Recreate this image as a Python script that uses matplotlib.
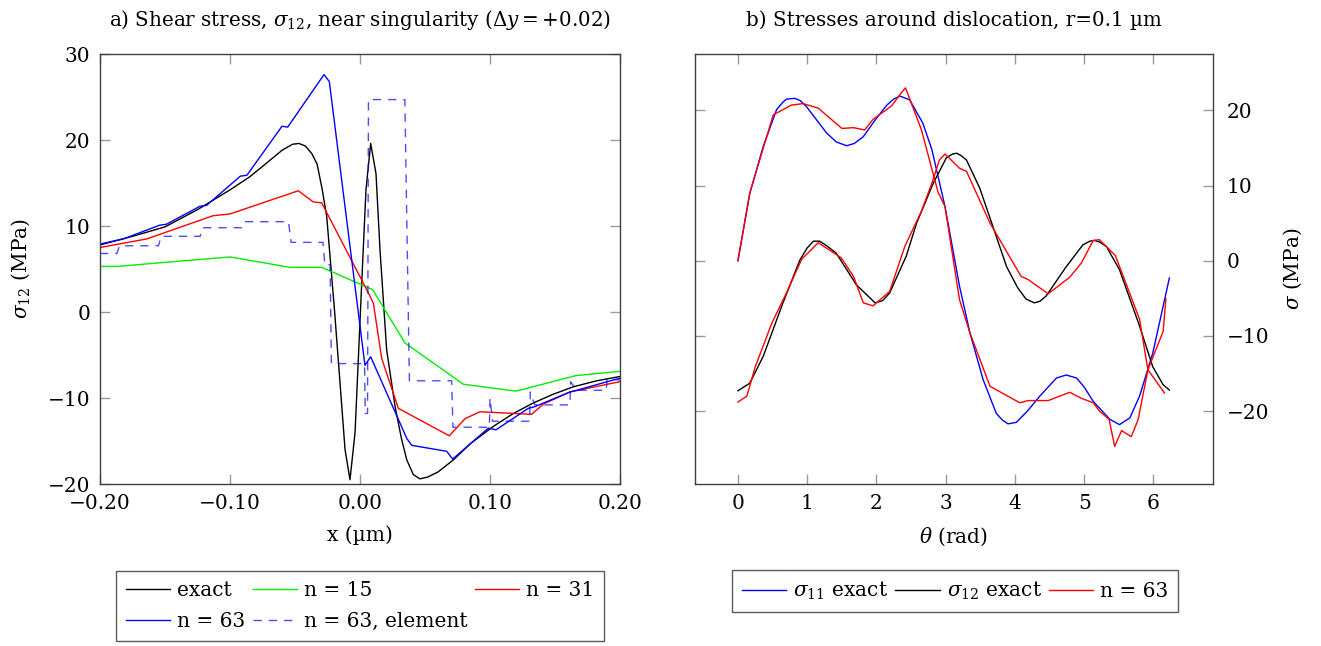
import matplotlib
matplotlib.use('Agg')
import matplotlib.pyplot as plt

plt.rcParams['font.family'] = ['DejaVu Serif']
plt.rcParams['mathtext.fontset'] = 'dejavuserif'
plt.rcParams['font.size'] = 14

# ---- a) shear stress near singularity ----
exact_x = [-0.2, -0.175, -0.15, -0.125, -0.1, -0.085, -0.072, -0.06, -0.052, -0.047,
           -0.042, -0.037, -0.033, -0.029, -0.0256, -0.0195, -0.0115, -0.0077, -0.0038,
           0.0013, 0.0046, 0.0082, 0.0123, 0.0154, 0.0205, 0.027, 0.032, 0.036, 0.041,
           0.046, 0.052, 0.06, 0.0718, 0.085, 0.1026, 0.118, 0.133, 0.148, 0.164, 0.182, 0.2]
exact_y = [7.8, 8.8, 9.9, 11.9, 14.2, 15.7, 17.3, 18.8, 19.5, 19.6,
           19.3, 18.4, 17.2, 14.2, 11.1, 0.0, -16.0, -19.5, -14.0,
           3.3, 14.2, 19.6, 16.1, 7.2, -4.4, -11.0, -14.8, -17.2, -18.9,
           -19.4, -19.2, -18.6, -17.2, -15.3, -13.3, -11.8, -10.6, -9.6, -8.7, -8.0, -7.5]

n15_x = [-0.2, -0.187, -0.1, -0.054, -0.0295, 0.0097, 0.0346, 0.0795, 0.12, 0.166, 0.2]
n15_y = [5.3, 5.3, 6.4, 5.2, 5.2, 2.6, -3.6, -8.4, -9.2, -7.4, -6.9]

n31_x = [-0.2, -0.164, -0.113, -0.1, -0.0474, -0.036, -0.0295, 0.0072, 0.0103, 0.0167,
         0.0295, 0.0687, 0.0808, 0.0923, 0.132, 0.141, 0.1615, 0.2]
n31_y = [7.5, 8.5, 11.2, 11.4, 14.1, 12.8, 12.7, 2.0, 1.0, -5.4,
         -11.2, -14.4, -12.4, -11.6, -11.9, -10.7, -9.3, -8.1]

n63_x = [-0.2, -0.182, -0.154, -0.149, -0.123, -0.118, -0.092, -0.087, -0.060, -0.0556,
         -0.0277, -0.0236, 0.0038, 0.0082, 0.036, 0.0397, 0.0667, 0.0713, 0.0987, 0.1046,
         0.1295, 0.1346, 0.1615, 0.1667, 0.195, 0.2]
n63_y = [7.9, 8.5, 10.1, 10.2, 12.3, 12.4, 15.8, 15.9, 21.6, 21.5,
         27.6, 26.8, -6.2, -5.2, -14.7, -15.5, -16.2, -17.1, -13.5, -13.7,
         -11.2, -11.0, -9.3, -9.1, -7.9, -7.7]

elem_x = [-0.2, -0.187, -0.185, -0.155, -0.153, -0.123, -0.121, -0.091, -0.089, -0.055,
          -0.053, -0.0285, -0.027, -0.023, -0.022, 0.0035, 0.004, 0.0058, 0.0065, 0.0345,
          0.038, 0.0705, 0.0715, 0.0995, 0.1, 0.102, 0.1305, 0.131, 0.1345, 0.1615,
          0.162, 0.1665, 0.1895, 0.19, 0.2]
elem_y = [6.8, 6.8, 7.7, 7.7, 8.8, 8.8, 9.8, 9.8, 10.5, 10.5,
          8.1, 8.1, 5.5, 5.5, -6.0, -6.0, -11.8, -11.8, 24.7, 24.7,
          -8.0, -8.0, -13.4, -13.4, -10.0, -12.7, -12.7, -9.3, -10.8, -10.8,
          -8.1, -9.1, -9.1, -7.8, -7.9]

# ---- b) stresses around dislocation ----
th_s11 = [0, 0.173, 0.365, 0.558, 0.64, 0.7, 0.82, 0.9, 0.99, 1.13, 1.28, 1.42, 1.57,
          1.68, 1.81, 1.98, 2.15, 2.25, 2.34, 2.48, 2.67, 2.8, 2.99, 3.2, 3.35, 3.54, 3.73,
          3.82, 3.9, 4.02, 4.18, 4.36, 4.6, 4.74, 4.89, 5.0, 5.13, 5.37, 5.51, 5.66, 5.8,
          5.99, 6.23]
s11_exact = [0, 9.0, 15.2, 20.1, 21.0, 21.5, 21.6, 21.3, 20.5, 18.8, 17.0, 15.8, 15.3,
             15.6, 16.5, 18.7, 20.7, 21.5, 21.9, 21.4, 18.3, 14.8, 7.2, -3.4, -9.6, -15.8,
             -20.3, -21.2, -21.7, -21.5, -20.0, -18.0, -15.6, -15.2, -15.6, -16.8, -18.7,
             -21.1, -21.8, -20.9, -18.0, -12.3, -2.3]

th_s12 = [0, 0.17, 0.366, 0.65, 0.895, 1.0, 1.09, 1.18, 1.28, 1.42, 1.71, 1.98, 2.09, 2.19,
          2.43, 2.58, 2.82, 3.01, 3.1, 3.16, 3.22, 3.3, 3.49, 3.68, 3.88, 4.04, 4.16, 4.28,
          4.36, 4.45, 4.74, 4.98, 5.08, 5.15, 5.22, 5.32, 5.51, 5.8, 5.99, 6.14, 6.23]
s12_exact = [-17.3, -16.3, -12.7, -5.6, 0.1, 1.7, 2.6, 2.6, 2.0, 1.0, -3.2, -5.6, -5.3,
             -4.3, 0.6, 5.0, 10.3, 13.7, 14.2, 14.3, 14.0, 13.4, 9.7, 4.6, -0.8, -3.6,
             -5.1, -5.6, -5.4, -4.7, -0.8, 2.1, 2.6, 2.7, 2.5, 1.9, -1.2, -8.7, -14.1,
             -16.5, -17.2]

th_r11 = [0, 0.17, 0.51, 0.77, 0.94, 1.16, 1.5, 1.67, 1.83, 1.95, 2.22, 2.34, 2.42, 2.65,
          2.89, 2.99, 3.2, 3.35, 3.64, 4.07, 4.19, 4.48, 4.79, 4.96, 5.13, 5.22, 5.36,
          5.44, 5.54, 5.68, 5.78, 5.92, 6.14, 6.18]
s11_n63 = [0, 9.0, 19.4, 20.7, 20.9, 20.3, 17.6, 17.7, 17.4, 18.8, 20.6, 22.1, 23.0, 17.4,
           9.1, 7.2, -5.2, -9.6, -16.7, -18.9, -18.6, -18.6, -17.5, -18.3, -18.9, -20.0,
           -21.1, -24.7, -22.6, -23.4, -21.1, -14.5, -9.4, -5.0]

th_r12 = [0, 0.13, 0.25, 0.49, 0.71, 0.92, 1.16, 1.49, 1.67, 1.81, 1.95, 2.19, 2.41, 2.65,
          2.8, 2.91, 2.99, 3.2, 3.3, 3.64, 4.09, 4.19, 4.48, 4.79, 4.96, 5.13, 5.22, 5.45,
          5.8, 5.92, 6.16]
s12_n63 = [-18.8, -18.0, -14.1, -8.3, -4.1, 0.2, 2.4, 0.4, -2.1, -5.6, -6.0, -4.1, 1.9,
           6.6, 10.3, 13.4, 14.2, 12.3, 11.9, 5.0, -2.1, -2.5, -4.4, -2.2, -0.3, 2.7, 2.8,
           0.7, -7.8, -14.5, -17.6]

fig = plt.figure(figsize=(13.21, 6.46), dpi=100)
ax1 = fig.add_axes([100 / 1321, 162 / 646, 520 / 1321, 430 / 646])
ax2 = fig.add_axes([695 / 1321, 162 / 646, 518 / 1321, 430 / 646])

lw = 1.0
h_exact, = ax1.plot(exact_x, exact_y, color='black', lw=lw, label='exact')
h15, = ax1.plot(n15_x, n15_y, color='#00ee00', lw=lw, label='n = 15')
h31, = ax1.plot(n31_x, n31_y, color='red', lw=lw, label='n = 31')
h63, = ax1.plot(n63_x, n63_y, color='blue', lw=lw, label='n = 63')
hel, = ax1.plot(elem_x, elem_y, color='blue', alpha=0.7, lw=lw, dashes=(6, 5),
                label='n = 63, element')

ax1.set_xlim(-0.2, 0.2)
ax1.set_ylim(-20, 30)
ax1.set_xticks([-0.2, -0.1, 0, 0.1, 0.2])
ax1.set_xticklabels(['\u22120.20', '\u22120.10', '0.00', '0.10', '0.20'])
ax1.set_yticks([-20, -10, 0, 10, 20, 30])
ax1.set_xlabel('x (µm)', fontsize=14.5, labelpad=9)
ax1.set_ylabel(r'$\sigma_{12}$ (MPa)', fontsize=14.5, labelpad=11)
ax1.set_title(r'a) Shear stress, $\sigma_{12}$, near singularity ($\Delta y = +0.02$)',
              fontsize=14.3, pad=20)

hb1, = ax2.plot(th_s11, s11_exact, color='blue', lw=lw, label=r'$\sigma_{11}$ exact')
hb2, = ax2.plot(th_s12, s12_exact, color='black', lw=lw, label=r'$\sigma_{12}$ exact')
hb3, = ax2.plot(th_r11, s11_n63, color='red', lw=lw, label='n = 63')
ax2.plot(th_r12, s12_n63, color='red', lw=lw)

ax2.set_xlim(-0.62, 6.86)
ax2.set_ylim(-29.7, 27.5)
ax2.set_xticks(range(0, 7))
ax2.set_yticks([-20, -10, 0, 10, 20])
ax2.yaxis.set_label_position('right')
ax2.set_xlabel(r'$\theta$ (rad)', fontsize=14.5, labelpad=9)
ax2.set_ylabel(r'$\sigma$ (MPa)', fontsize=14.5, labelpad=9)
ax2.set_title('b) Stresses around dislocation, r=0.1 µm', fontsize=14.3, pad=20)

for ax in (ax1, ax2):
    for s in ax.spines.values():
        s.set_color('#404040')
        s.set_linewidth(1.0)
    ax.tick_params(direction='in', length=7, width=1, color='#999999',
                   top=True, right=True, labelsize=14.5)
    ax.tick_params(axis='x', pad=7)
    ax.tick_params(axis='y', pad=7)
ax2.tick_params(axis='y', labelleft=False, labelright=True, pad=10)

leg1 = fig.legend([h_exact, h63, h15, hel, h31],
                  ['exact', 'n = 63', 'n = 15', 'n = 63, element', 'n = 31'],
                  ncol=3, loc='center', bbox_to_anchor=(360 / 1321, 1 - 606 / 646),
                  frameon=True, fancybox=False, edgecolor='#333333', fontsize=14.5,
                  handlelength=2.2, handletextpad=0.35, columnspacing=0.35,
                  borderpad=0.5, labelspacing=0.6)
leg1.get_frame().set_linewidth(1.0)
leg2 = fig.legend([hb1, hb2, hb3], [r'$\sigma_{11}$ exact', r'$\sigma_{12}$ exact', 'n = 63'],
                  ncol=3, loc='center', bbox_to_anchor=(955 / 1321, 1 - 591 / 646),
                  frameon=True, fancybox=False, edgecolor='#333333', fontsize=14.5,
                  handlelength=2.2, handletextpad=0.35, columnspacing=0.35,
                  borderpad=0.5)
leg2.get_frame().set_linewidth(1.0)

fig.savefig('out.png', dpi=100)
